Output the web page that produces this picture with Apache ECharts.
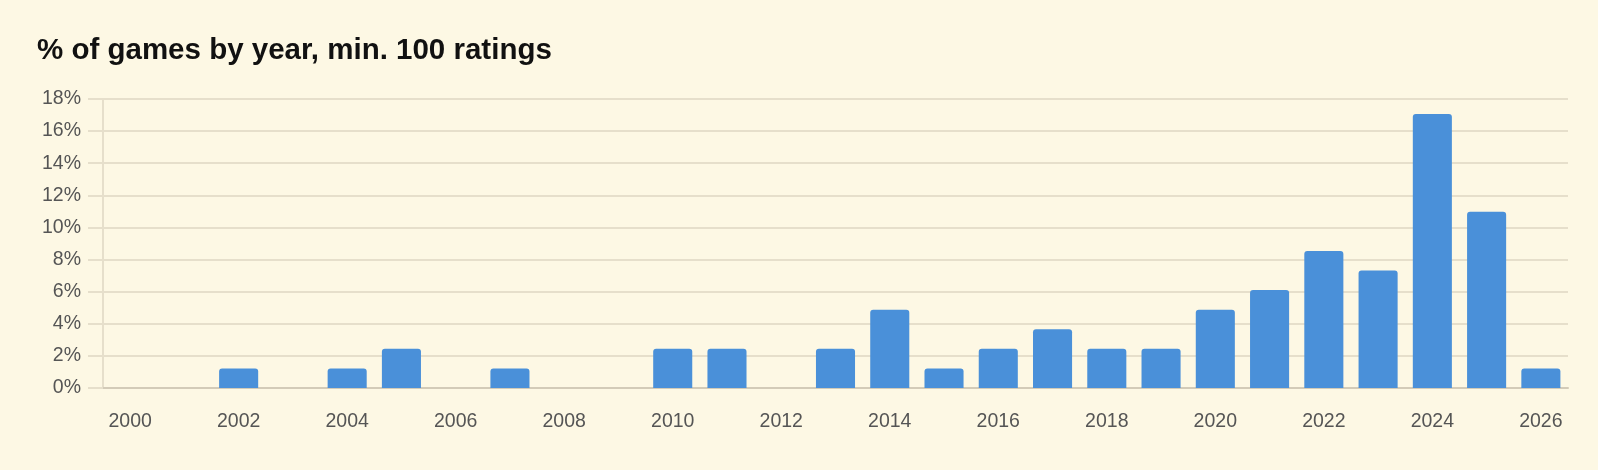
<!DOCTYPE html>
<html><head><meta charset="utf-8">
<script src="https://cdn.jsdelivr.net/npm/echarts@6/dist/echarts.min.js"></script>
<style>html,body{margin:0;padding:0;background:#fdf8e4;}#c{width:1598px;height:470px;}</style>
</head><body><div id="c"></div>
<script>
const years = ['2000','2001','2002','2003','2004','2005','2006','2007','2008','2009','2010','2011','2012','2013','2014','2015','2016','2017','2018','2019','2020','2021','2022','2023','2024','2025','2026'];
const percents = [0,0,1.22,0,1.22,2.44,0,1.22,0,0,2.44,2.44,0,2.44,4.88,1.22,2.44,3.66,2.44,2.44,4.88,6.10,8.54,7.32,17.07,10.98,1.22];
const yTicks = [0,2,4,6,8,10,12,14,16,18];
const chart = echarts.init(document.getElementById('c'));
chart.setOption({
  backgroundColor: '#fdf8e4',
  animation: false,
  title: {
    text: '% of games by year, min. 100 ratings',
    left: 32, top: 31,
    textStyle: {fontFamily: 'Liberation Sans', fontWeight: 'bold', fontSize: 29.5, color: '#111'}
  },
  grid: {left: 103, right: 30, top: 99, bottom: 82},
  xAxis: {
    type: 'category', data: years,
    axisLine: {lineStyle: {color: '#d3cbb8', width: 2}},
    axisTick: {show: false},
    axisLabel: {interval: 1, color: '#555', fontSize: 19.5, fontFamily: 'Liberation Sans', margin: 24}
  },
  yAxis: {
    type: 'value', min: yTicks[0], max: yTicks[yTicks.length-1], interval: 2,
    axisLine: {show: true, lineStyle: {color: '#e6dfcb', width: 2}},
    axisTick: {show: true, length: 15, lineStyle: {color: '#e6dfcb', width: 2}},
    splitLine: {lineStyle: {color: '#e6dfcb', width: 2}},
    axisLabel: {formatter: '{value}%', color: '#555', fontSize: 19.5, fontFamily: 'Liberation Sans', margin: 22}
  },
  series: [{
    type: 'bar', data: percents, barCategoryGap: '28%',
    itemStyle: {color: '#4a90d9', borderRadius: [3,3,0,0]}
  }]
});
</script></body></html>
